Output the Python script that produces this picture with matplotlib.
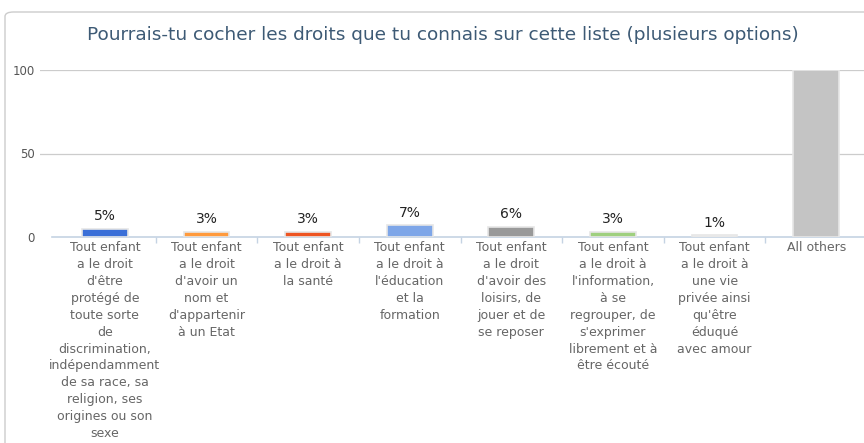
import matplotlib
matplotlib.use('Agg')
import matplotlib.pyplot as plt
from matplotlib.patches import FancyBboxPatch

# data
labels = [
    "Tout enfant\na le droit\nd'être\nprotégé de\ntoute sorte\nde\ndiscrimination,\nindépendamment\nde sa race, sa\nreligion, ses\norigines ou son\nsexe",
    "Tout enfant\na le droit\nd'avoir un\nnom et\nd'appartenir\nà un Etat",
    "Tout enfant\na le droit à\nla santé",
    "Tout enfant\na le droit à\nl'éducation\net la\nformation",
    "Tout enfant\na le droit\nd'avoir des\nloisirs, de\njouer et de\nse reposer",
    "Tout enfant\na le droit à\nl'information,\nà se\nregrouper, de\ns'exprimer\nlibrement et à\nêtre écouté",
    "Tout enfant\na le droit à\nune vie\nprivée ainsi\nqu'être\néduqué\navec amour",
    "All others",
]
values = [5, 3, 3, 7, 6, 3, 1, 100]
value_labels = ["5%", "3%", "3%", "7%", "6%", "3%", "1%", ""]
colors = ['#3a6fd8', '#ff9a3c', '#ee5522', '#7ea6e8', '#999999', '#9fd07f', '#f2f2f2', '#c4c4c4']
yticks = [0, 50, 100]
title = "Pourrais-tu cocher les droits que tu connais sur cette liste (plusieurs options)"

W, H = 864, 443
fig = plt.figure(figsize=(W / 100, H / 100), dpi=100)

# outer frame
frame = FancyBboxPatch((5 / W, -0.1), 1.2, 1.1 - 12 / H,
                       boxstyle="round,pad=0,rounding_size=0.01",
                       transform=fig.transFigure, facecolor='none',
                       edgecolor='#cccccc', linewidth=1.0, zorder=-1)
fig.patches.append(frame)

# axes: gridlines start at x=40, categories from x=54 to 867
x0, x1 = 40, 867
y0, y1 = 237, 70
ax = fig.add_axes([x0 / W, (H - y0) / H, (x1 - x0) / W, (y0 - y1) / H])
ax.set_facecolor('none')
step = (867 - 54) / len(values)
ax.set_xlim(-0.5 - 14 / step, len(values) - 0.5)
ax.set_ylim(0, 100)

xs = list(range(len(values)))
ax.bar(xs, values, width=0.45, color=colors, edgecolor='#e6e6e6', linewidth=1.2, zorder=3)

for x, v, t in zip(xs, values, value_labels):
    if t:
        ax.annotate(t, (x, v), xytext=(0, 4), textcoords='offset points',
                    ha='center', va='bottom', fontsize=10, color='#222222')

ax.set_yticks(yticks)
ax.set_yticklabels([str(t) for t in yticks], fontsize=8.5, color='#555555')
ax.tick_params(axis='y', length=0, pad=4)
for t in yticks[1:]:
    ax.axhline(t, color='#cccccc', linewidth=0.9, zorder=1)
ax.plot([-0.5 - 2 / step, len(values)], [0, 0], color='#c5d3e3', linewidth=1.2,
        zorder=2, clip_on=False)

# category separators below the axis
ax.set_xticks([i + 0.5 for i in range(len(values) - 1)], minor=True)
ax.tick_params(axis='x', which='minor', length=4, color='#c5d3e3', width=1)
ax.set_xticks(xs)
ax.set_xticklabels(labels, fontsize=9, color='#666666', linespacing=1.39, va='top')
ax.tick_params(axis='x', which='major', length=0, pad=3)

for s in ax.spines.values():
    s.set_visible(False)

fig.text(443 / W, 1 - 35 / H, title, ha='center', va='center', fontsize=13.3,
         color='#3d5a75')

fig.savefig('out.png', dpi=100)
